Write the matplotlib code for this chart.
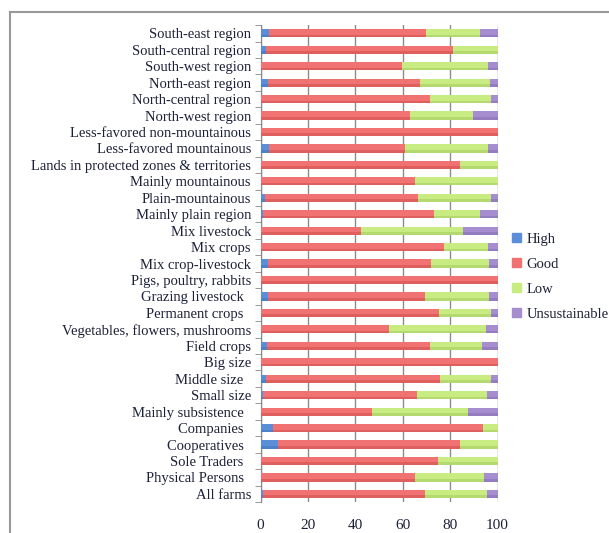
import matplotlib
matplotlib.use('Agg')
import matplotlib.pyplot as plt
from matplotlib.lines import Line2D
import numpy as np

# categories, top to bottom
categories = ['South-east region', 'South-central region', 'South-west region',
              'North-east region', 'North-central region', 'North-west region',
              'Less-favored non-mountainous', 'Less-favored mountainous',
              'Lands in protected zones & territories', 'Mainly mountainous',
              'Plain-mountainous', 'Mainly plain region', 'Mix livestock',
              'Mix crops', 'Mix crop-livestock', 'Pigs, poultry, rabbits',
              'Grazing livestock  ', 'Permanent crops  ',
              'Vegetables, flowers, mushrooms', 'Field crops', 'Big size',
              'Middle size  ', 'Small size', 'Mainly subsistence  ',
              'Companies  ', 'Cooperatives  ', 'Sole Traders  ',
              'Physical Persons  ', 'All farms']

high = [3.6, 2.2, 0, 3.0, 0, 0, 0, 3.6, 0, 0,
        1.9, 0.8, 0, 0, 3.0, 0, 3.0, 0, 0, 2.7,
        0, 2.2, 0.8, 0, 5.4, 7.4, 0, 0.2, 1.2]
good = [66.2, 79.0, 59.7, 64.3, 71.5, 63.1, 100, 57.5, 84.3, 65.0,
        64.6, 72.3, 42.4, 77.4, 68.9, 100, 66.5, 75.3, 54.1, 68.8,
        100, 73.5, 65.2, 46.9, 88.6, 76.9, 74.8, 65.1, 68.3]
low = [22.7, 18.8, 36.1, 29.4, 25.6, 26.6, 0, 34.7, 15.7, 35.0,
       30.9, 19.7, 43.0, 18.4, 24.5, 0, 26.9, 22.1, 41.0, 21.9,
       0, 21.4, 29.6, 40.8, 6.0, 15.7, 25.2, 29.1, 26.1]
unsust = [7.5, 0, 4.2, 3.3, 2.9, 10.3, 0, 4.2, 0, 0,
          2.6, 7.2, 14.6, 4.2, 3.6, 0, 3.6, 2.6, 4.9, 6.6,
          0, 2.9, 4.4, 12.3, 0, 0, 0, 5.6, 4.4]

series = ['High', 'Good', 'Low', 'Unsustainable']
colors = ['#5a8ed8', '#f07272', '#c8ec82', '#a58dd0']
edges = ['#3f6fb8', '#cc4a4a', '#9cc45a', '#8068b0']

plt.rcParams['font.family'] = ['Liberation Serif', 'DejaVu Serif']
txt = '#1c2038'

fig = plt.figure(figsize=(6.09, 5.33), dpi=100)
ax = fig.add_axes([0.428, 0.058, 0.389, 0.895])

y = np.arange(len(categories))
left = np.zeros(len(categories))
for vals, c, e, name in zip([high, good, low, unsust], colors, edges, series):
    vals = np.array(vals)
    ax.barh(y, vals, left=left, height=0.5, color=c, label=name, zorder=3)
    # darker lower edge like the gradient fill
    ax.barh(y + 0.17, vals, left=left, height=0.16, color=e, alpha=0.45,
            zorder=4, linewidth=0)
    left += vals

ax.set_ylim(len(categories) - 0.5, -0.5)
ax.set_xlim(0, 100)
ax.set_xticks([0, 20, 40, 60, 80, 100])
ax.set_yticks(y)
ax.set_yticklabels(categories, fontsize=10.5, color=txt)
ax.set_yticks(np.arange(-0.5, len(categories)), minor=True)
ax.tick_params(axis='y', which='major', length=0, pad=7)
ax.tick_params(axis='y', which='minor', length=4, color='#888888', direction='out')
ax.tick_params(axis='x', length=0, labelsize=11, labelcolor=txt, pad=12)
ax.grid(axis='x', color='#8c8c8c', linewidth=1, zorder=0)
for s in ['top', 'right', 'bottom']:
    ax.spines[s].set_visible(False)
ax.spines['left'].set_color('#888888')

handles = [plt.Rectangle((0, 0), 1, 1, color=c) for c in colors]
fig.legend(handles, series, loc='center left', bbox_to_anchor=(0.841, 0.481),
           frameon=False, fontsize=10.5, handlelength=0.6, handleheight=0.6,
           handletextpad=0.4, labelspacing=0.82, labelcolor=txt,
           borderaxespad=0, borderpad=0)

# outer frame lines
fig.add_artist(Line2D([10 / 609, 10 / 609], [0, 1 - 12 / 533], color='#999999', linewidth=1.5))
fig.add_artist(Line2D([10 / 609, 1], [1 - 12 / 533, 1 - 12 / 533], color='#999999', linewidth=1.5))

fig.savefig('out.png', dpi=100)
